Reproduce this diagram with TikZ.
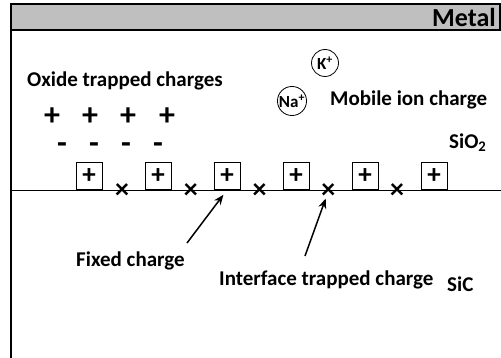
\documentclass[tikz,border=0pt]{standalone}
\usepackage{fontspec}
\setmainfont{Carlito}
\usetikzlibrary{arrows.meta}

\begin{document}
\begin{tikzpicture}[
  x=1pt, y=-1pt,
  font=\fontsize{21}{24}\selectfont\bfseries,
  lbl/.style={inner sep=0pt, anchor=west},
  sign/.style={inner sep=0pt, font=\fontsize{32}{32}\selectfont\bfseries},
  fixbox/.style={draw, semithick, minimum width=26pt, minimum height=27pt, inner sep=0pt, anchor=south,
    font=\fontsize{27}{27}\selectfont\bfseries},
  trap/.style={inner sep=0pt, font=\fontsize{28}{28}\selectfont\bfseries},
  ion/.style={draw, thick, circle, minimum size=27pt, inner sep=0pt, font=\fontsize{17}{17}\selectfont\bfseries},
  arr/.style={-{Stealth[length=10pt, width=8pt]}, line width=1.5pt}
]
\useasboundingbox (0,0) rectangle (501,358);

% metal gate and oxide frame
\draw[line width=2pt, fill=black!25] (11,4) rectangle (500,30);
\draw[line width=2.4pt] (11,4) -- (11,358);
\node[lbl, anchor=east, font=\fontsize{26}{26}\selectfont\bfseries] (metal) at (496,17) {Metal};

% oxide trapped charges
\node[lbl] (oxide) at (27,81) {Oxide trapped charges};
\foreach \x [count=\i] in {52,90,128,167}
  \node[sign] (pos\i) at (\x,117) {+};
\foreach \x [count=\i] in {62,94,126,158}
  \node[sign] (neg\i) at (\x,148) {-};

% mobile ions
\node[ion] (k) at (325,63) {K\textsuperscript{+}};
\node[ion] (na) at (292,101) {Na\textsuperscript{+}};
\node[lbl] (mobile) at (330,100) {Mobile ion charge};
\node[lbl] (sio2) at (449,143) {SiO\textsubscript{2}};

% interface with fixed and trapped charges
\draw[semithick] (11,190) -- (501,190);
\foreach \i in {0,...,5}
  \node[fixbox] (fix\i) at ({89+69*\i},190) {+};
\foreach \i in {0,...,4}
  \node[trap] (it\i) at ({122+68.8*\i},191) {×};

% labels and arrows
\node[lbl] (fixed) at (76,261) {Fixed charge};
\node[lbl] (inter) at (219,280) {Interface trapped charge};
\node[lbl] (sic) at (447,284) {SiC};
\coordinate (fixtail) at (187,243);
\coordinate (intertail) at (305,256);
\draw[arr, shorten >=6pt] (fixtail) -- (fix2.south);
\draw[arr, shorten >=8pt] (intertail) -- (it3.center);

\end{tikzpicture}
\end{document}
